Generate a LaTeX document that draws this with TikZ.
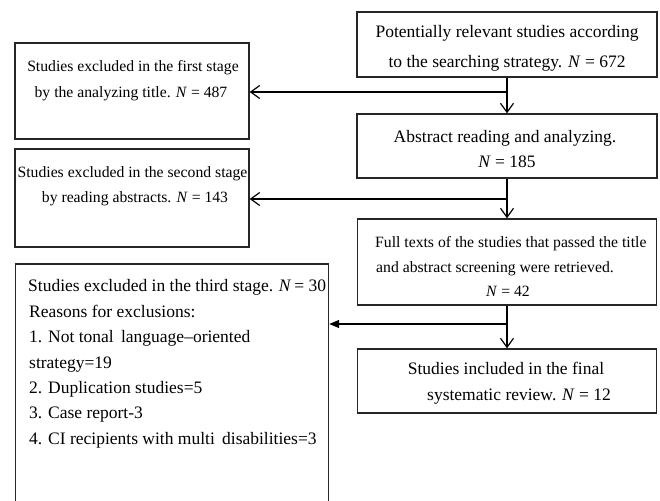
\documentclass[tikz,border=0pt]{standalone}
\usepackage{fontspec}
\setmainfont{Liberation Serif}
\usetikzlibrary{arrows.meta}
\begin{document}
\begin{tikzpicture}[x=1pt,y=-1pt,
 box/.style={draw=black!85, line width=1.4pt, inner sep=0pt},
 big/.style={font=\fontsize{17.5}{25}\selectfont, inner sep=0pt},
 small/.style={font=\fontsize{15.7}{25}\selectfont, inner sep=0pt},
 conn/.style={line width=1.2pt, draw=black},
 barb/.style={-{Straight Barb[length=9pt,width=13pt,line width=1.2pt]}},
 filltip/.style={-{Triangle[length=10pt,width=8pt]}}
]
\useasboundingbox (0,0) rectangle (660,500);

% right column boxes
\node[box, minimum width=300pt, minimum height=65pt] (A) at (507,44.5) {};
\node[box, minimum width=300pt, minimum height=64pt] (B) at (507,146) {};
\node[box, minimum width=299pt, minimum height=86pt] (C) at (507,262) {};
\node[box, minimum width=299pt, minimum height=64pt] (D) at (507,381) {};

% left column boxes
\node[box, minimum width=234pt, minimum height=96pt] (L1) at (132,91) {};
\node[box, minimum width=234pt, minimum height=98pt] (L2) at (132,198) {};
\node[box, minimum width=313pt, minimum height=240pt] (L3) at (172,384) {};

% texts
\node[big, anchor=base] (A1) at (507,38) {Potentially relevant studies according};
\node[big, anchor=base] (A2) at (507,68) {to the searching strategy. \textit{N} = 672};

\node[big, anchor=base] (B1) at (505,142) {Abstract reading and analyzing.};
\node[big, anchor=base] (B2) at (507,167) {\textit{N} = 185};

\node[small, anchor=base west] (C1) at (375,247) {Full texts of the studies that passed the title};
\node[small, anchor=base west] (C2) at (376,272) {and abstract screening were retrieved.};
\node[small, anchor=base] (C3) at (508,296) {\textit{N} = 42};

\node[big, anchor=base] (D1) at (506,374) {Studies included in the final};
\node[big, anchor=base] (D2) at (519,400) {systematic review. \textit{N} = 12};

\node[small, anchor=base] (L1a) at (133,72) {Studies excluded in the first stage};
\node[small, anchor=base] (L1b) at (131,97) {by the analyzing title. \textit{N} = 487};

\node[small, anchor=base] (L2a) at (132.5,177) {Studies excluded in the second stage};
\node[small, anchor=base] (L2b) at (135,202) {by reading abstracts. \textit{N} = 143};

\node[big, anchor=base west] (L3a) at (28,291) {Studies excluded in the third stage. \textit{N}\,= 30};
\node[big, anchor=base west] (L3b) at (29,317) {Reasons for exclusions:};
\node[big, anchor=base west] (L3c) at (29,342) {1. Not tonal\, language–oriented};
\node[big, anchor=base west] (L3d) at (29,368) {strategy=19};
\node[big, anchor=base west] (L3e) at (29,393) {2. Duplication studies=5};
\node[big, anchor=base west] (L3f) at (29,418) {3. Case report-3};
\node[big, anchor=base west] (L3g) at (29,444) {4. CI recipients with multi\, disabilities=3};

% connectors
\coordinate (j1) at (507,92);
\coordinate (j2) at (507,199);
\coordinate (j3) at (507,324);

\draw[conn, barb] (A.south) -- (B.north);
\draw[conn, barb] (j1) -- (j1 -| L1.east);

\draw[conn, barb] (B.south) -- (C.north);
\draw[conn, barb] (j2) -- (j2 -| L2.east);

\draw[conn, barb] (C.south) -- (D.north);
\draw[conn, filltip] (j3) -- (j3 -| L3.east);
\end{tikzpicture}
\end{document}
